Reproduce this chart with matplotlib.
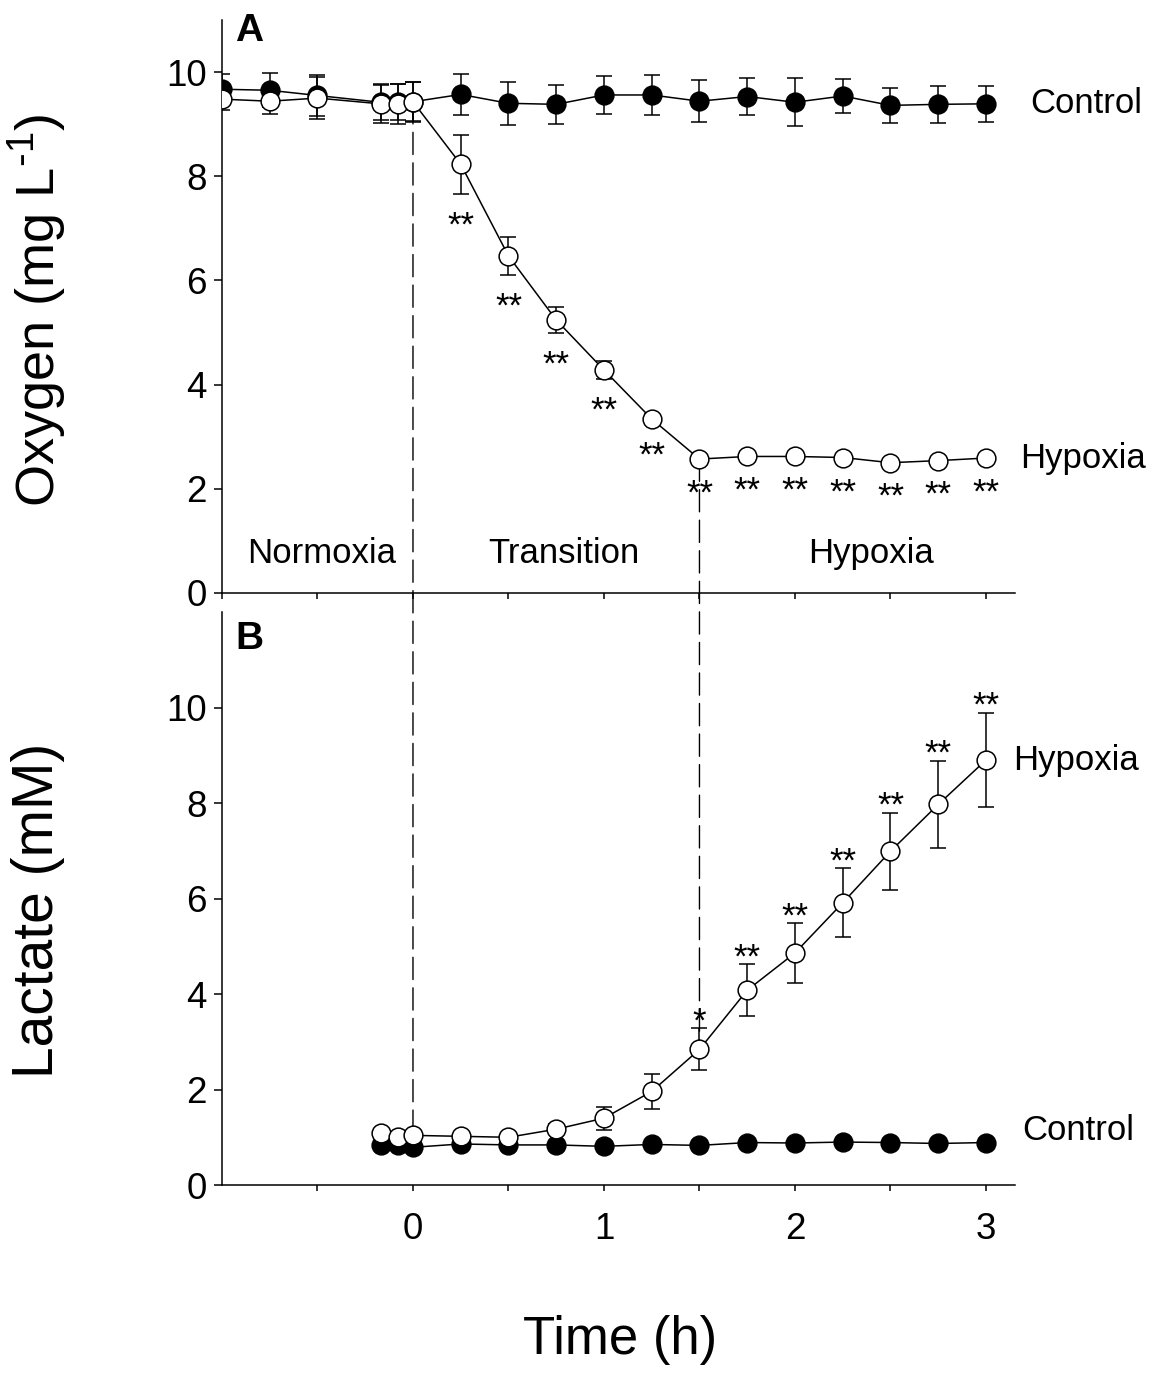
# Oxigeno y lactato vs tiempo (paneles A y B)

import matplotlib
matplotlib.use("Agg")
import matplotlib.pyplot as plt
from matplotlib.patches import ConnectionPatch
import numpy as np

plt.rcParams['font.family'] = ['Liberation Sans', 'DejaVu Sans']
plt.rcParams['mathtext.default'] = 'regular'

# ---- datos panel A (oxigeno, mg/L) ----
tiempo_A = [-1.0, -0.75, -0.5, -0.17, -0.08, 0.0, 0.25, 0.5, 0.75, 1.0,
            1.25, 1.5, 1.75, 2.0, 2.25, 2.5, 2.75, 3.0]
o2_control = [9.67, 9.65, 9.55, 9.42, 9.42, 9.43, 9.57, 9.40, 9.38, 9.56,
              9.56, 9.44, 9.53, 9.42, 9.54, 9.36, 9.38, 9.39]
o2_control_err = [0.30, 0.33, 0.40, 0.35, 0.35, 0.38, 0.40, 0.41, 0.37, 0.37,
                  0.38, 0.40, 0.35, 0.46, 0.33, 0.34, 0.35, 0.34]
o2_hipoxia = [9.48, 9.44, 9.50, 9.39, 9.39, 9.43, 8.23, 6.47, 5.24, 4.28,
              3.34, 2.57, 2.62, 2.62, 2.60, 2.50, 2.54, 2.59]
o2_hipoxia_err = [0.20, 0.25, 0.40, 0.36, 0.39, 0.37, 0.57, 0.37, 0.25, 0.17,
                  0.10, 0.05, 0.05, 0.05, 0.06, 0.05, 0.05, 0.05]
sig_A = ['', '', '', '', '', '', '**', '**', '**', '**',
         '**', '**', '**', '**', '**', '**', '**', '**']

# ---- datos panel B (lactato, mM) ----
tiempo_B = [-0.17, -0.08, 0.0, 0.25, 0.5, 0.75, 1.0, 1.25, 1.5, 1.75,
            2.0, 2.25, 2.5, 2.75, 3.0]
lac_control = [0.84, 0.83, 0.79, 0.86, 0.84, 0.84, 0.81, 0.85, 0.83, 0.89,
               0.88, 0.90, 0.89, 0.87, 0.89]
lac_control_err = [0.06] * 15
lac_hipoxia = [1.09, 1.01, 1.04, 1.02, 1.00, 1.17, 1.40, 1.96, 2.84, 4.08,
               4.86, 5.91, 6.99, 7.97, 8.90]
lac_hipoxia_err = [0.05, 0.05, 0.06, 0.06, 0.06, 0.10, 0.24, 0.37, 0.44, 0.54,
                   0.62, 0.72, 0.81, 0.91, 0.99]
sig_B = ['', '', '', '', '', '', '', '', '*', '**',
         '**', '**', '**', '**', '**']

fases = ['Normoxia', 'Transition', 'Hypoxia']
fases_x = [-0.48, 0.79, 2.4]

fs = 25
fs_tick = 26.5
lw = 1.1

fig = plt.figure(figsize=(11.58, 13.86), dpi=100)
axA = fig.add_axes([0.1917, 0.5722, 0.6848, 0.4134])
axB = fig.add_axes([0.1917, 0.1450, 0.6848, 0.4134])


def serie(ax, x, y, e, relleno):
    ax.errorbar(x, y, yerr=e, fmt='-o', color='k', mfc=relleno, mec='k',
                ms=13.5, mew=lw, lw=lw, elinewidth=lw, capsize=5.8,
                capthick=lw, zorder=3)


serie(axA, tiempo_A, o2_control, o2_control_err, 'k')
serie(axA, tiempo_A, o2_hipoxia, o2_hipoxia_err, 'white')
serie(axB, tiempo_B, lac_control, lac_control_err, 'k')
serie(axB, tiempo_B, lac_hipoxia, lac_hipoxia_err, 'white')

# asteriscos
for x, y, e, s in zip(tiempo_A, o2_hipoxia, o2_hipoxia_err, sig_A):
    if s:
        axA.annotate(s, xy=(x, y - e), xytext=(0, -30), textcoords='offset points',
                     ha='center', va='baseline', fontsize=fs)
for x, y, e, s in zip(tiempo_B, lac_hipoxia, lac_hipoxia_err, sig_B):
    if s:
        axB.annotate(s, xy=(x, y + e), xytext=(0, -2), textcoords='offset points',
                     ha='center', va='baseline', fontsize=fs)

for ax, ytop in [(axA, 11), (axB, 12)]:
    ax.set_facecolor('none')
    ax.set_xlim(-1.0, 3.152)
    ax.set_ylim(0, ytop)
    ax.spines['top'].set_visible(False)
    ax.spines['right'].set_visible(False)
    for s in ['left', 'bottom']:
        ax.spines[s].set_linewidth(lw)
    ax.set_yticks([0, 2, 4, 6, 8, 10])
    ax.tick_params(axis='y', direction='out', length=6, width=lw,
                   labelsize=fs_tick, pad=5)
    ax.tick_params(axis='x', which='both', direction='out', length=4.5, width=lw,
                   labelsize=fs_tick, pad=15)

axA.set_xticks(np.arange(-1, 3.01, 0.5))
axA.set_xticklabels([])
axB.set_xticks([0, 1, 2, 3])
axB.set_xticks([-0.5, 0.5, 1.5, 2.5], minor=True)

# etiquetas
axA.text(3.23, o2_control[-1], 'Control', ha='left', va='center', fontsize=fs)
axA.text(3.18, o2_hipoxia[-1], 'Hypoxia', ha='left', va='center', fontsize=fs)
axB.text(3.14, lac_hipoxia[-1], 'Hypoxia', ha='left', va='center', fontsize=fs)
axB.text(3.19, 1.15, 'Control', ha='left', va='center', fontsize=fs)
for f, fx in zip(fases, fases_x):
    axA.text(fx, 0.76, f, ha='center', va='center', fontsize=fs)

axA.text(-0.93, 10.78, 'A', ha='left', va='center', fontsize=28, fontweight='bold')
axB.text(-0.93, 11.44, 'B', ha='left', va='center', fontsize=28, fontweight='bold')

# lineas discontinuas entre paneles
for t in [0.0, 1.5]:
    iA = tiempo_A.index(t)
    iB = tiempo_B.index(t)
    con = ConnectionPatch(xyA=(t, o2_hipoxia[iA]), coordsA=axA.transData,
                          xyB=(t, lac_hipoxia[iB]), coordsB=axB.transData,
                          color='k', lw=1.0, linestyle=(0, (16, 6)), zorder=-1)
    fig.add_artist(con)

fig.text(38 / 1158, 1 - 310 / 1386, 'Oxygen (mg L$^{\\text{-}1}$)', rotation=90,
         ha='center', va='center', fontsize=39)
fig.text(38 / 1158, 1 - 910 / 1386, 'Lactate (mM)', rotation=90,
         ha='center', va='center', fontsize=41)
fig.text(620 / 1158, 1 - 1340 / 1386, 'Time (h)', ha='center', va='center',
         fontsize=38)

fig.savefig('out.png', dpi=100)
